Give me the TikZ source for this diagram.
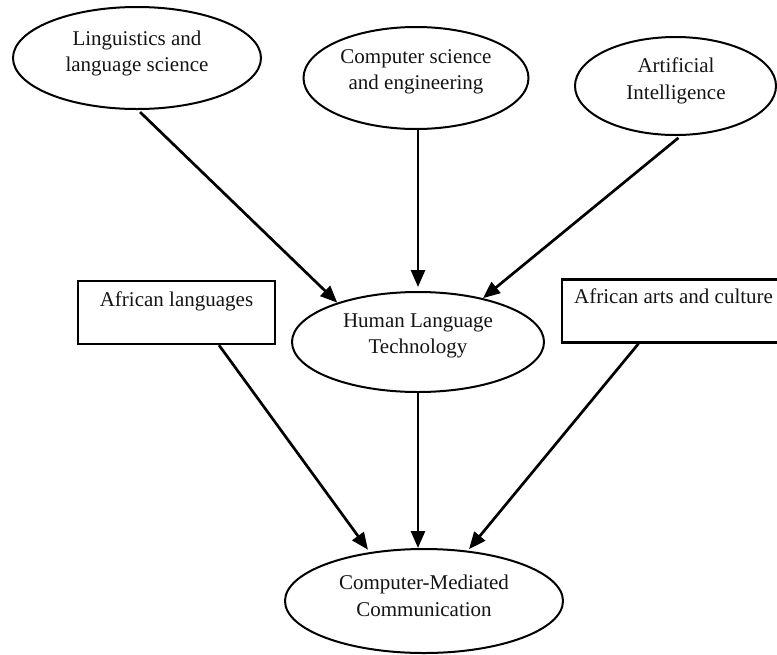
\documentclass[tikz,border=0pt]{standalone}
\usepackage{fontspec}
\setmainfont{Liberation Serif}
\usetikzlibrary{shapes.geometric,arrows.meta}
\begin{document}
\begin{tikzpicture}[x=1pt,y=-1pt,
  oval/.style={draw=black, line width=2pt, ellipse, inner sep=0pt},
  box/.style={draw=black, line width=2.3pt, rectangle, inner sep=0pt},
  lbl/.style={inner sep=0pt, align=center, text=black!92,
              font=\fontsize{21}{26.5}\selectfont},
  link/.style={line width=2.7pt, -{Triangle[length=17pt,width=14pt]}}]
\useasboundingbox (0,0) rectangle (777,654);
\clip (0,0) rectangle (777,654);

% source disciplines
\node[oval, minimum width=248pt, minimum height=102pt] (ling) at (137,58) {};
\node[lbl] (lingT) at (137,53.6) {Linguistics and\\language science};

\node[oval, minimum width=225pt, minimum height=102pt] (cse) at (416,78) {};
\node[lbl] (cseT) at (416,72) {Computer science\\and engineering};

\node[oval, minimum width=201pt, minimum height=98pt] (ai) at (675.5,86) {};
\node[lbl] (aiT) at (676,81) {Artificial\\Intelligence};

% central technology
\node[oval, minimum width=252pt, minimum height=100pt] (hlt) at (418,342) {};
\node[lbl] (hltT) at (418,336) {Human Language\\Technology};

% side inputs
\node[box, minimum width=197pt, minimum height=63pt] (afl) at (176.5,312.5) {};
\node[lbl, anchor=base] (aflT) at (176.5,306) {African languages};

\node[box, minimum width=228pt, minimum height=63pt] (arts) at (676,311) {};
\node[lbl, anchor=base west] (artsT) at (574,303.5) {African arts and culture};

% outcome
\node[oval, minimum width=278pt, minimum height=104pt] (cmc) at (424,601) {};
\node[lbl] (cmcT) at (424,596) {Computer-Mediated\\Communication};

% connectors
\draw[link, shorten <=3pt] (ling.-89) -- (hlt.154.7);
\draw[link, shorten >=4pt] (hlt.north |- cse.south) -- (hlt.north);
\draw[link, shorten <=3pt] (ai.-84) -- (hlt.34);

\draw[link, shorten >=3pt] ([xshift=42.5pt]afl.south) -- (cmc.138);
\draw[link] (hlt.south) -- (hlt.south |- cmc.north);
\draw[link, shorten >=2pt] ([xshift=-37.5pt]arts.south) -- (cmc.49);
\end{tikzpicture}
\end{document}
